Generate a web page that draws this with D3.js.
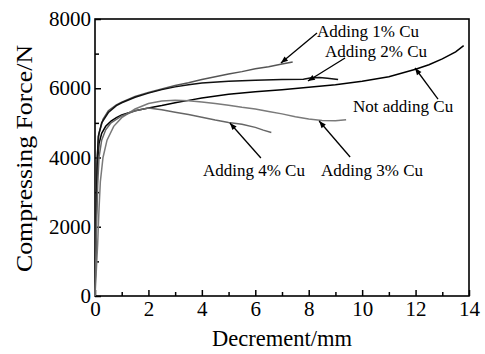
<!DOCTYPE html>
<html lang="en">
<head>
<meta charset="UTF-8">
<title>Compressing Force vs Decrement</title>
<script src="https://cdn.jsdelivr.net/npm/d3@7"></script>
<style>
    body { margin: 0; background: #fff; }
    svg text { font-family: "Liberation Serif", "Times New Roman", serif; fill: #000; }
</style>
</head>
<body>
<div id="chart"></div>
<script>
    // curves: [decrement mm, force N]
    const notAdding = [[0,0],[0.03,1500],[0.06,3000],[0.1,3900],[0.15,4400],[0.25,4700],[0.4,4900],[0.6,5050],[0.8,5150],[1,5230],[1.5,5350],[2,5430],[2.5,5500],[3,5580],[3.5,5650],[4,5720],[5,5830],[6,5900],[7,5960],[8,6030],[9,6100],[10,6200],[11,6330],[12,6550],[12.5,6680],[13,6850],[13.5,7050],[13.8,7230]];
    const cu1 = [[0,0],[0.05,2500],[0.08,4000],[0.15,4700],[0.3,5100],[0.5,5350],[0.8,5520],[1,5600],[1.5,5760],[2,5880],[2.5,5980],[3,6080],[3.5,6160],[4,6250],[4.5,6330],[5,6410],[5.5,6480],[6,6560],[6.5,6620],[7,6700],[7.4,6760]];
    const cu2 = [[0,0],[0.04,2000],[0.08,3800],[0.12,4600],[0.25,5000],[0.5,5300],[0.8,5500],[1,5580],[1.5,5740],[2,5860],[2.5,5960],[3,6040],[3.5,6100],[4,6150],[5,6200],[6,6230],[7,6250],[7.8,6260],[8.1,6300],[8.4,6310],[8.7,6290],[9.1,6250]];
    const cu3 = [[0,0],[0.1,1500],[0.15,2500],[0.2,3300],[0.3,4000],[0.45,4500],[0.7,4900],[1,5150],[1.5,5400],[2,5560],[2.5,5630],[3,5650],[3.5,5640],[4,5600],[4.5,5560],[5,5510],[5.5,5450],[6,5400],[6.5,5330],[7,5260],[7.5,5180],[8,5110],[8.5,5070],[9,5060],[9.4,5090]];
    const cu4 = [[0,0],[0.05,1800],[0.1,3200],[0.15,4000],[0.25,4500],[0.4,4800],[0.6,5000],[1,5200],[1.5,5350],[2,5430],[2.5,5380],[3,5310],[3.5,5240],[4,5160],[4.5,5080],[5,5010],[5.5,4960],[6,4870],[6.3,4790],[6.6,4720]];

    const seriesNames = ["Not adding Cu", "Adding 1% Cu", "Adding 2% Cu", "Adding 3% Cu", "Adding 4% Cu"];
    const seriesData = [notAdding, cu1, cu2, cu3, cu4];
    const seriesColors = ["#000", "#555", "#111", "#7a7a7a", "#666"];

    // label text position, arrow tail, arrow head (data units)
    const labelPos = [[9.66, 5314], [8.31, 7480], [8.61, 6902], [8.46, 3466], [4.04, 3466]];
    const arrowFrom = [[12.84, 5689], [8.31, 7596], [9.36, 6873], [9.55, 4014], [6.21, 3985]];
    const arrowTo = [[11.98, 6585], [6.96, 6729], [7.97, 6209], [8.39, 5054], [5.05, 4996]];

    const xTicks = [0, 2, 4, 6, 8, 10, 12, 14];
    const xMinor = [1, 3, 5, 7, 9, 11, 13];
    const yTicks = [0, 2000, 4000, 6000, 8000];
    const yMinor = [1000, 3000, 5000, 7000];

    const serif = '"Liberation Serif", "Times New Roman", serif';
    const width = 485, height = 354;
    const margin = { top: 19, right: 16, bottom: 58, left: 95 };
    const w = width - margin.left - margin.right;
    const h = height - margin.top - margin.bottom;

    const svg = d3.select("#chart").append("svg")
        .attr("width", width).attr("height", height);
    const g = svg.append("g").attr("transform", `translate(${margin.left},${margin.top})`);

    const x = d3.scaleLinear().domain([0, 14]).range([0, w]);
    const y = d3.scaleLinear().domain([0, 8000]).range([h, 0]);

    // axes, ticks pointing inward
    g.append("g").attr("class", "axis").attr("transform", `translate(0,${h})`)
        .call(d3.axisBottom(x).tickValues(xTicks).tickSize(-6).tickPadding(5).tickFormat(d3.format("d")));
    g.append("g").attr("class", "axis").attr("transform", `translate(0,${h})`)
        .call(d3.axisBottom(x).tickValues(xMinor).tickSize(-4).tickFormat(""));
    g.append("g").attr("class", "axis")
        .call(d3.axisLeft(y).tickValues(yTicks).tickSize(-6).tickPadding(4).tickFormat(d3.format("d")));
    g.append("g").attr("class", "axis")
        .call(d3.axisLeft(y).tickValues(yMinor).tickSize(-4).tickFormat(""));

    g.selectAll(".axis").attr("font-family", serif).attr("font-size", 21);
    g.selectAll(".domain").remove();
    g.selectAll(".tick line").attr("stroke", "#000").attr("stroke-width", 1.5);
    g.selectAll(".tick text").style("font-family", serif).style("font-size", "21px");

    // frame
    g.append("rect").attr("width", w).attr("height", h)
        .attr("fill", "none").attr("stroke", "#000").attr("stroke-width", 1.6);

    const line = d3.line().x(d => x(d[0])).y(d => y(d[1]));
    g.selectAll(".curve").data(seriesData).join("path")
        .attr("class", "curve")
        .attr("d", line)
        .attr("fill", "none")
        .attr("stroke", (d, i) => seriesColors[i])
        .attr("stroke-width", 1.5);

    // arrows
    svg.append("defs").append("marker")
        .attr("id", "head").attr("viewBox", "0 0 10 10")
        .attr("refX", 10).attr("refY", 5)
        .attr("markerWidth", 9).attr("markerHeight", 7)
        .attr("markerUnits", "userSpaceOnUse")
        .attr("orient", "auto")
        .append("path").attr("d", "M0,1 L10,5 L0,9 Z").attr("fill", "#000");

    g.selectAll(".arrow").data(seriesNames).join("line")
        .attr("class", "arrow")
        .attr("x1", (d, i) => x(arrowFrom[i][0])).attr("y1", (d, i) => y(arrowFrom[i][1]))
        .attr("x2", (d, i) => x(arrowTo[i][0])).attr("y2", (d, i) => y(arrowTo[i][1]))
        .attr("stroke", "#000").attr("stroke-width", 1.3)
        .attr("marker-end", "url(#head)");

    g.selectAll(".lbl").data(seriesNames).join("text")
        .attr("class", "lbl")
        .attr("x", (d, i) => x(labelPos[i][0]))
        .attr("y", (d, i) => y(labelPos[i][1]))
        .style("font-family", serif)
        .style("font-size", "17px")
        .text(d => d);

    // axis titles
    svg.append("text")
        .attr("x", margin.left + x(7)).attr("y", 346)
        .attr("text-anchor", "middle")
        .style("font-family", serif)
        .style("font-size", "22.5px")
        .text("Decrement/mm");

    svg.append("text")
        .attr("transform", `translate(32,${margin.top + y(4000) + 1}) rotate(-90)`)
        .attr("text-anchor", "middle")
        .attr("textLength", 227).attr("lengthAdjust", "spacingAndGlyphs")
        .style("font-family", serif)
        .style("font-size", "23px")
        .text("Compressing Force/N");
</script>
</body>
</html>
